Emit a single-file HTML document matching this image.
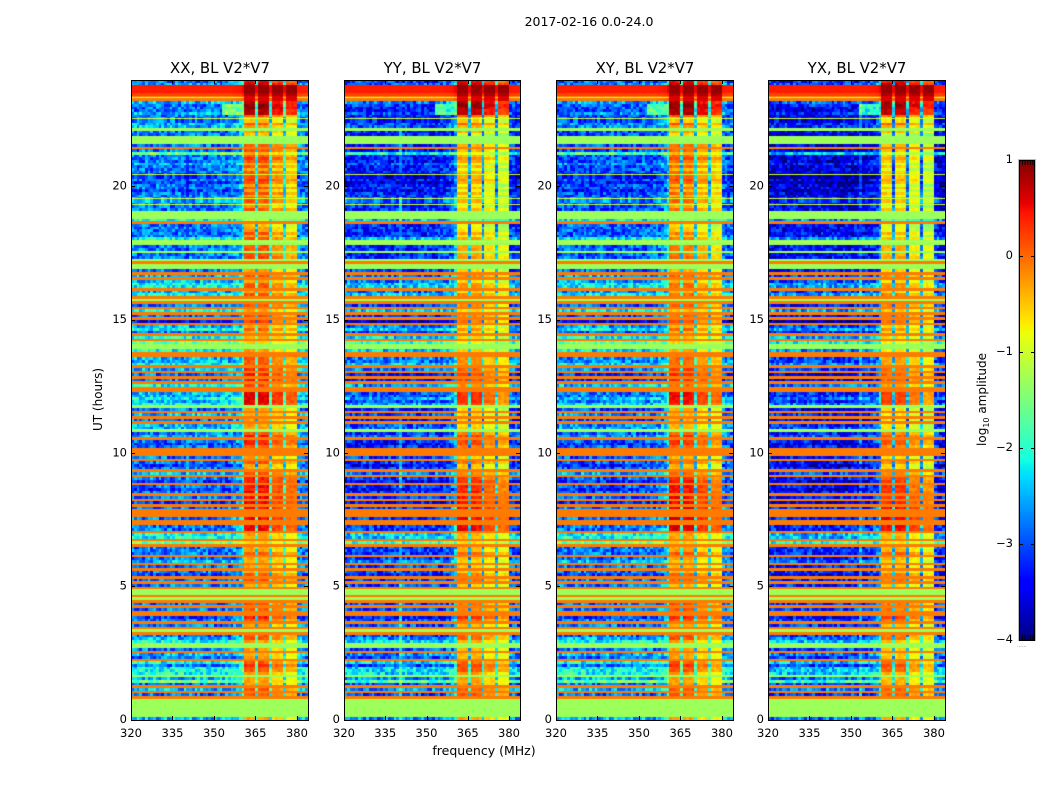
<!DOCTYPE html>
<html>
<head>
<meta charset="utf-8">
<title>2017-02-16 0.0-24.0</title>
<style>
html,body{margin:0;padding:0;background:#fff;}
#figure{position:relative;width:1050px;height:800px;overflow:hidden;background:#fff;font-family:"DejaVu Sans","Liberation Sans",sans-serif;}
#figure canvas{position:absolute;display:block;}
#overlay{position:absolute;left:0;top:0;}
#overlay text{font-family:"DejaVu Sans","Liberation Sans",sans-serif;fill:#000;}
</style>
</head>
<body>
<div id="figure">
<svg id="overlay" width="1050" height="800" viewBox="0 0 1050 800">
<text x="589" y="26" text-anchor="middle" font-size="12.5">2017-02-16 0.0-24.0</text>
<text x="484" y="755" text-anchor="middle" font-size="12.5">frequency (MHz)</text>
<text transform="translate(102,399.5) rotate(-90)" text-anchor="middle" font-size="12">UT (hours)</text>
<text transform="translate(986,399.5) rotate(-90)" text-anchor="middle" font-size="12">log<tspan font-size="8" dy="3">10</tspan><tspan dy="-3"> amplitude</tspan></text>
<text x="1017" y="647" font-size="5" style="fill:#666">......</text>
</svg>
</div>
<script>
/* ---------- chart data ---------- */
const panelNames = ["XX", "YY", "XY", "YX"];
const freqTicks = [320, 335, 350, 365, 380];
const hourTicks = [0, 5, 10, 15, 20];
const colorbarTicks = [1, 0, -1, -2, -3, -4];
const colorbarTickLabels = ["1", "0", "\u22121", "\u22122", "\u22123", "\u22124"];

/* log10 amplitude x10, one value per 0.1 h, first entry = 23.9-24.0 UT */
const rowLow = [
-28,-26,4,4,4,2,-10,-1,-25,-28,
-28,-28,-25,-28,-10,-28,-25,-25,-13,-28,
-28,-13,-13,-13,-28,-1,-28,-16,-28,-28,
-28,-25,-28,-28,-28,-10,-31,-28,-31,-28,
-28,-31,-28,-28,-10,-25,-10,-28,-28,-13,
-13,-13,-21,-1,-28,-28,-28,-28,-28,-21,
-10,-13,-28,-28,-13,-28,-28,-13,-1,-13,
-13,-28,-1,-25,-1,-25,-21,-21,-1,-25,
-21,-1,-13,-1,-28,-1,-21,-1,-28,-1,
-34,-1,-25,-21,-28,-1,-21,-1,-16,-13,
-13,-21,-1,-1,-25,-25,-21,-1,-25,-1,
-28,-1,-28,-1,-21,-1,-1,-25,-25,-21,
-25,-21,-13,-28,-1,-25,-1,-28,-1,-25,
-25,-13,-28,-25,-1,-28,-31,-28,-1,-1,
-1,-28,-1,-28,-31,-28,-1,-25,-1,-28,
-31,-1,-28,-31,-28,-1,-28,-1,-31,-1,
-28,-1,-1,-1,-28,-1,-1,-28,-28,-1,
-21,-21,-1,-16,-1,-28,-28,-28,-1,-28,
-25,-1,-28,-1,-28,-31,-1,-28,-1,-28,
-1,-13,-13,-1,-13,-1,-28,-1,-28,-1,
-1,-31,-28,-1,-28,-1,-13,-1,-28,-25,
-21,-13,-13,-28,-1,-25,-28,-1,-21,-28,
-21,-21,-21,-13,-25,-16,-28,-1,-25,-1,
-28,-1,-13,-13,-13,-13,-13,-13,-13,-25];

const rowHigh = [
3,5,9,9,9,8,6,6,6,7,
7,6,6,-1,-10,-7,-1,-5,-13,-5,
-7,-13,-13,-13,-1,-1,-1,-5,-1,1,
-1,-5,-1,-5,-1,-10,-1,1,-1,-5,
-1,-5,-1,-5,-10,-1,-10,-5,-1,-13,
-13,-13,-13,-1,-7,-5,-5,-1,-5,-1,
-10,-13,-1,-1,-13,-1,0,-13,-1,-13,
-13,-5,-1,-1,-1,-5,-1,-1,-1,-5,
-1,-1,-13,-1,-1,-1,-5,-1,-1,-1,
0,-1,-5,-1,-5,-1,-5,-1,-7,-13,
-13,-5,-1,-1,-1,-1,-1,-1,1,-1,
2,-1,2,-1,-1,-1,-1,4,4,4,
4,3,-13,-5,-1,-5,-1,-5,-1,-5,
-5,-13,-1,2,-1,2,2,-1,-1,-1,
-1,-5,-1,-1,-5,-5,-1,-1,-1,2,
2,-1,3,2,3,-1,3,-1,3,-1,
3,-1,-1,-1,3,-1,-1,3,3,-1,
-5,-5,-1,-7,-1,-5,-5,-1,-1,-5,
-5,-1,-5,-1,-5,-1,-1,-1,-1,-5,
-1,-13,-13,-1,-13,-1,-1,-1,-1,-1,
-1,2,-1,-1,-5,-1,-13,-1,-1,-1,
-5,-13,-13,-5,-1,-5,-5,-1,-1,1,
-1,-1,-5,-13,-5,-5,-5,-1,-1,-1,
-1,-1,-13,-13,-13,-13,-13,-13,-13,-5];

/* per-hour level shift of each polarisation (x10), hour 0 first */
const lowShiftXX = [0,0,0,0,0,0,0,0,0,0,0,0,0,0,0,0,0,0,0,0,0,0,0,0];
const lowShiftYY = [-2,-2,-2,-2,-2,-2,-3,-3,-3,-3,-4,-5,-5,-3,-3,-3,-3,-4,-4,-4,-5,-5,-5,-3];
const lowShiftXY = [0,0,0,0,0,0,0,0,-1,-1,-1,-2,-3,-2,-1,-1,-1,-1,-1,-2,-2,-2,-2,-1];
const lowShiftYX = [-3,-3,-3,-3,-3,-4,-4,-4,-5,-5,-5,-7,-7,-6,-5,-5,-5,-6,-6,-7,-8,-8,-7,-4];
const highShiftXX = [0,0,0,0,0,0,0,0,0,0,0,0,0,0,0,0,0,0,0,0,0,0,0,0];
const highShiftYY = [0,0,-1,-1,-2,-2,-1,0,-1,-2,-2,-3,-3,-3,-3,-3,-3,-4,-4,-5,-5,-5,-1,0];
const highShiftXY = [0,0,0,0,0,-1,0,1,0,-1,-1,-1,-1,-1,-1,-1,-1,-2,-2,-1,-1,-1,0,0];
const highShiftYX = [-1,-1,-2,-2,-2,-2,-1,0,-2,-3,-3,-4,-4,-4,-3,-2,-3,-5,-5,-6,-6,-6,-1,0];

/* share of the in-band level seen by each of the 64 1-MHz channels */
const channelWeight = [
0,0,0,0,0,0,0,0,0,0,0,0,0,0,0,0,
0,0,0,0,0,0,0,0,0,0,0,0,0,0,0,0,
0,0,0,0,.03,.05,.08,.12,.25,1,1,1,1,.25,1,1,
1,1,.25,1,1,1,1,.25,1,1,1,1,.05,.03,0,0];
/* in-band sub-block brightness (x10) */
const channelBoost = [
0,0,0,0,0,0,0,0,0,0,0,0,0,0,0,0,
0,0,0,0,0,0,0,0,0,0,0,0,0,0,0,0,
0,0,0,0,0,0,0,0,0,2,2,2,2,0,2,2,
2,2,0,-1,-1,-1,-1,0,-3,-3,-3,-3,0,0,0,0];
/* narrow-band interference channels seen as faint vertical lines */
const spurChannelsXX = [];
const spurChannelsYY = [20];
const spurChannelsXY = [];
const spurChannelsYX = [33];
/* rows where the band edge glows just below 360 MHz */
const edgeGlowRows = [9, 10, 11, 12];
/* speckle sampled from the noisy part of the plot (x10) */
const speckle = [2,-3,4,-1,-4,1,4,-2,1,-5,3,0,-4,5,-1,2,-4,1,4,-3,-1,4,-2,1,-5,3,-1,4,-4,1,0,-2,5,-4,2,-1,1];

/* ---------- scales ---------- */
const plotTop = 80, plotBottom = 720;
const freqMin = 320, freqMax = 384, hourMax = 24;
const cbTop = 160, cbBottom = 640, cbLeft = 1019, cbWidth = 16;
const lowShifts = [lowShiftXX, lowShiftYY, lowShiftXY, lowShiftYX];
const highShifts = [highShiftXX, highShiftYY, highShiftXY, highShiftYX];
const spurChannels = [spurChannelsXX, spurChannelsYY, spurChannelsXY, spurChannelsYX];
function panelLeft(i){ return Math.round(131.2 + i * 212.35); }
function panelWidth(i){ return Math.round(131.2 + i * 212.35 + 176.6) - panelLeft(i); }
function xScale(f, w){ return (f - freqMin) / (freqMax - freqMin) * w; }
function yScale(h){ return plotBottom - h / hourMax * (plotBottom - plotTop); }
function cbScale(v){ return cbBottom - (v + 4) / 5 * (cbBottom - cbTop); }

/* ---------- jet colormap ---------- */
const jetR = [[0,0],[.35,0],[.66,1],[.89,1],[1,.5]];
const jetG = [[0,0],[.125,0],[.375,1],[.64,1],[.91,0],[1,0]];
const jetB = [[0,.5],[.11,1],[.34,1],[.65,0],[1,0]];
function ramp(s, x){
  for (let i = 1; i < s.length; i++) {
    if (x <= s[i][0]) {
      const t = (x - s[i-1][0]) / (s[i][0] - s[i-1][0]);
      return s[i-1][1] + t * (s[i][1] - s[i-1][1]);
    }
  }
  return s[s.length-1][1];
}
function colour(v){
  const x = Math.max(0, Math.min(1, (v + 4) / 5));
  return "rgb(" + Math.round(255*ramp(jetR,x)) + "," + Math.round(255*ramp(jetG,x)) + "," + Math.round(255*ramp(jetB,x)) + ")";
}

/* ---------- drawing ---------- */
const fig = document.getElementById("figure");
const svg = document.getElementById("overlay");
const NS = "http://www.w3.org/2000/svg";
function line(x1, y1, x2, y2){
  const el = document.createElementNS(NS, "line");
  el.setAttribute("x1", x1); el.setAttribute("y1", y1);
  el.setAttribute("x2", x2); el.setAttribute("y2", y2);
  el.setAttribute("stroke", "#000"); el.setAttribute("stroke-width", "1");
  svg.appendChild(el);
  return el;
}
function label(x, y, anchor, size, str){
  const el = document.createElementNS(NS, "text");
  el.setAttribute("x", x); el.setAttribute("y", y);
  el.setAttribute("text-anchor", anchor); el.setAttribute("font-size", size);
  el.textContent = str;
  svg.appendChild(el);
  return el;
}
function cellValue(p, r, c){
  const low = rowLow[r], high = rowHigh[r];
  const hour = Math.min(hourMax - 1, Math.floor((rowLow.length - 1 - r) / 10));
  let w = channelWeight[c];
  if (low >= -14) return (low + (high - low) * w) / 10;
  if (edgeGlowRows.indexOf(r) >= 0 && c >= 33 && c <= 40) w = Math.max(w, 0.35);
  const noise = speckle[(r * 17 + c * (5 + r % 9) + p * 7) % speckle.length];
  let lo = low + lowShifts[p][hour] + noise;
  if (spurChannels[p].indexOf(c) >= 0) lo += 5;
  const hi = high + highShifts[p][hour] + channelBoost[c] + noise * 0.25;
  return (lo + (hi - lo) * w) / 10;
}

panelNames.forEach(function(name, p){
  const left = panelLeft(p);
  const width = panelWidth(p);
  const cv = document.createElement("canvas");
  
  
  cv.width = width; cv.height = plotBottom - plotTop;
  cv.style.left = left + "px"; cv.style.top = plotTop + "px";
  fig.insertBefore(cv, svg);
  const ctx = cv.getContext("2d");
  const nRows = rowLow.length, nChan = channelWeight.length;
  for (let r = 0; r < nRows; r++) {
    const y0 = Math.round(yScale(hourMax * (nRows - r) / nRows) - plotTop);
    const y1 = Math.round(yScale(hourMax * (nRows - r - 1) / nRows) - plotTop);
    const thin = rowLow[r] === -10 && r + 1 < nRows;
    for (let c = 0; c < nChan; c++) {
      const x0 = Math.round(xScale(freqMin + c, width));
      const x1 = Math.round(xScale(freqMin + c + 1, width));
      ctx.fillStyle = colour(cellValue(p, thin ? r + 1 : r, c));
      ctx.fillRect(x0, y0, x1 - x0, y1 - y0);
      if (thin) {
        ctx.fillStyle = colour(cellValue(p, r, c));
        ctx.fillRect(x0, y0 + 1, x1 - x0, 1);
      }
    }
  }

  const frame = document.createElementNS(NS, "rect");
  
  
  frame.setAttribute("x", left + 0.5); frame.setAttribute("y", plotTop + 0.5);
  frame.setAttribute("width", width); frame.setAttribute("height", plotBottom - plotTop);
  frame.setAttribute("fill", "none"); frame.setAttribute("stroke", "#000");
  svg.appendChild(frame);

  const title = label(left + width / 2 + 0.5, 73, "middle", 14.9, name + ", BL V2*V7");
  
  

  freqTicks.forEach(function(f){
    const x = Math.floor(left + 0.5 + xScale(f, width)) + 0.5;
    const tb = line(x, plotBottom, x, plotBottom - 4);
    
    
    const tt = line(x, plotTop, x, plotTop + 4);
    
    
    const lab = label(left + xScale(f, width), 737, "middle", 11.5, String(f));
    
    
  });
  hourTicks.forEach(function(h){
    const y = Math.floor(yScale(h)) + 0.5;
    const tl = line(left, y, left + 4, y);
    
    
    const tr = line(left + width, y, left + width - 4, y);
    
    
    const lab = label(left - 4, yScale(h) + 3, "end", 11.5, String(h));
    
    
  });
});

/* colorbar */
const cb = document.createElement("canvas");


cb.width = cbWidth; cb.height = cbBottom - cbTop;
cb.style.left = cbLeft + "px"; cb.style.top = cbTop + "px";
fig.insertBefore(cb, svg);
const cbCtx = cb.getContext("2d");
for (let y = 0; y < cb.height; y++) {
  cbCtx.fillStyle = colour(1 - (y + 0.5) / cb.height * 5);
  cbCtx.fillRect(0, y, cbWidth, 1);
}
const cbHalo = document.createElementNS(NS, "rect");


cbHalo.setAttribute("x", cbLeft - 0.5); cbHalo.setAttribute("y", cbTop - 0.5);
cbHalo.setAttribute("width", cbWidth + 1); cbHalo.setAttribute("height", cbBottom - cbTop + 1);
cbHalo.setAttribute("fill", "none"); cbHalo.setAttribute("stroke", "#bbb");
svg.appendChild(cbHalo);
const cbFrame = document.createElementNS(NS, "rect");


cbFrame.setAttribute("x", cbLeft + 0.5); cbFrame.setAttribute("y", cbTop + 0.5);
cbFrame.setAttribute("width", cbWidth - 1); cbFrame.setAttribute("height", cbBottom - cbTop);
cbFrame.setAttribute("fill", "none"); cbFrame.setAttribute("stroke", "#000");
svg.appendChild(cbFrame);
colorbarTicks.forEach(function(v, i){
  const y = Math.floor(cbScale(v)) + 0.5;
  const a = line(cbLeft, y, cbLeft + 4, y);
  
  
  const b = line(cbLeft + cbWidth, y, cbLeft + cbWidth - 4, y);
  
  
  const lab = label(cbLeft - 6, cbScale(v) + 3, "end", 11.5, colorbarTickLabels[i]);
  
  
});
for (let k = 0; k < 5; k++) {
  const x = cbLeft + 3.5 + k * 2.6;
  const t = line(x, cbTop, x, cbTop + 5);
  
  
  const u = line(x, cbBottom, x, cbBottom - 5);
  
  
}
</script>
</body>
</html>
